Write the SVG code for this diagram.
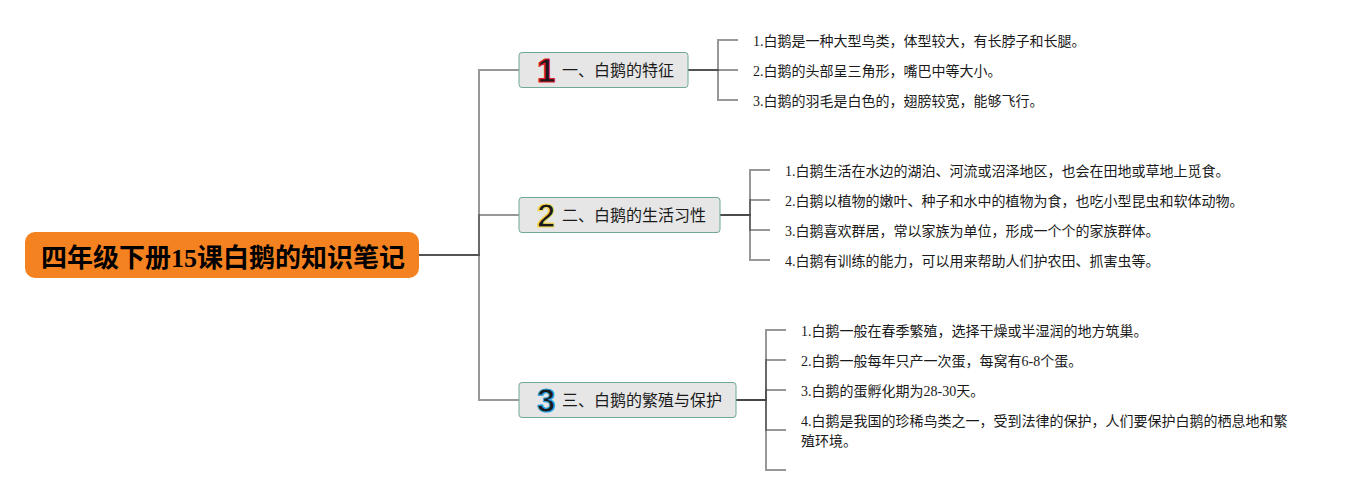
<svg xmlns="http://www.w3.org/2000/svg" width="1361" height="495" viewBox="0 0 1361 495">
<style>
text{font-family:"Liberation Serif","Noto Sans CJK SC",sans-serif;fill:#1a1a1a}
.leaf{font-size:14px}
.branch{font-size:16px}
.root{font-size:26px;font-weight:bold;fill:#000}
.box{fill:#e6e6e6;stroke:#6fa896;stroke-width:1}
.num{font-family:"Liberation Sans",sans-serif;font-size:33px;font-weight:bold;stroke-width:1.2;stroke-linejoin:round}
#connectors path{fill:none;stroke:#444;stroke-width:2;stroke-opacity:.55}
</style>
<rect width="1361" height="495" fill="#fff"/>
<g id="connectors">
<path d="M419 255H479V70H519"/><path d="M419 255H479V215H519"/><path d="M419 255H479V400H519"/>
<path d="M688 70H718V40H738"/><path d="M688 70H738"/><path d="M688 70H718V100H738"/>
<path d="M720 215H750V170H770"/><path d="M720 215H750V200H770"/><path d="M720 215H750V230H770"/><path d="M720 215H750V260H770"/>
<path d="M736 400H766V330H786"/><path d="M736 400H766V360H786"/><path d="M736 400H766V390H786"/><path d="M736 400H766V430H786"/><path d="M736 400H766V470H786"/>
</g>
<g id="root"><rect x="25" y="232" width="394" height="46" rx="10" fill="#f58220"/><text class="root" x="41" y="267">四年级下册15课白鹅的知识笔记</text></g>
<g id="b1"><rect class="box" x="519" y="52.500" width="169" height="35" rx="3"/><text class="num" x="537" y="82" fill="#dc1c2e" stroke="#dc1c2e">1</text><text class="branch" x="562" y="76">一、白鹅的特征</text></g>
<g id="b2"><rect class="box" x="519" y="197.500" width="201" height="35" rx="3"/><text class="num" x="537" y="227" fill="#f7dc55" stroke="#f7dc55">2</text><text class="branch" x="562" y="221">二、白鹅的生活习性</text></g>
<g id="b3"><rect class="box" x="519" y="382.500" width="217" height="35" rx="3"/><text class="num" x="537" y="412" fill="#27a0de" stroke="#27a0de">3</text><text class="branch" x="562" y="406">三、白鹅的繁殖与保护</text></g>
<g id="l11"><text class="leaf" x="753" y="46">1.白鹅是一种大型鸟类，体型较大，有长脖子和长腿。</text></g>
<g id="l12"><text class="leaf" x="753" y="76">2.白鹅的头部呈三角形，嘴巴中等大小。</text></g>
<g id="l13"><text class="leaf" x="753" y="106">3.白鹅的羽毛是白色的，翅膀较宽，能够飞行。</text></g>
<g id="l21"><text class="leaf" x="785" y="176">1.白鹅生活在水边的湖泊、河流或沼泽地区，也会在田地或草地上觅食。</text></g>
<g id="l22"><text class="leaf" x="785" y="206">2.白鹅以植物的嫩叶、种子和水中的植物为食，也吃小型昆虫和软体动物。</text></g>
<g id="l23"><text class="leaf" x="785" y="236">3.白鹅喜欢群居，常以家族为单位，形成一个个的家族群体。</text></g>
<g id="l24"><text class="leaf" x="785" y="266">4.白鹅有训练的能力，可以用来帮助人们护农田、抓害虫等。</text></g>
<g id="l31"><text class="leaf" x="801" y="336">1.白鹅一般在春季繁殖，选择干燥或半湿润的地方筑巢。</text></g>
<g id="l32"><text class="leaf" x="801" y="366">2.白鹅一般每年只产一次蛋，每窝有6-8个蛋。</text></g>
<g id="l33"><text class="leaf" x="801" y="396">3.白鹅的蛋孵化期为28-30天。</text></g>
<g id="l34"><text class="leaf" x="801" y="426">4.白鹅是我国的珍稀鸟类之一，受到法律的保护，人们要保护白鹅的栖息地和繁</text><text class="leaf" x="801" y="446">殖环境。</text></g>
</svg>
